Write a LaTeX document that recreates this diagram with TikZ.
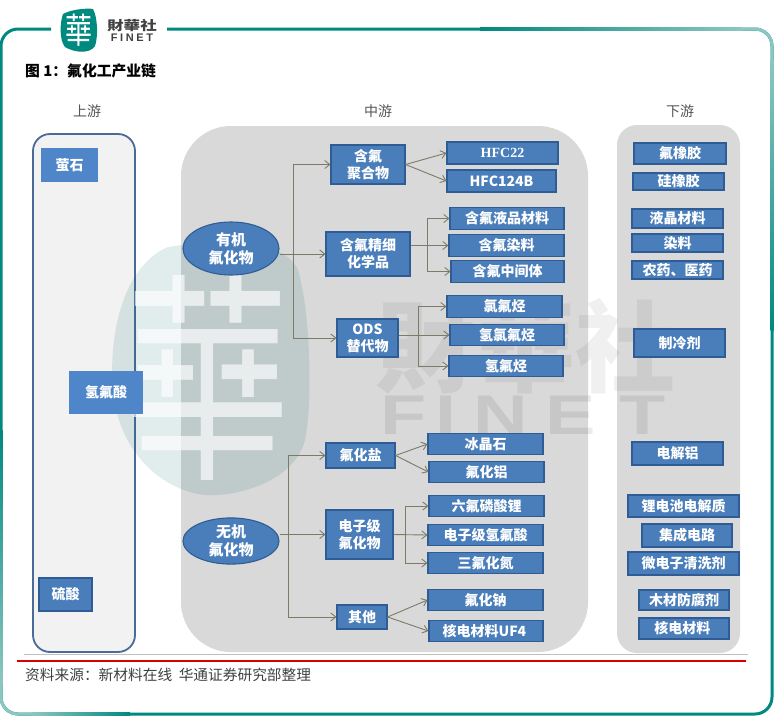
\documentclass[tikz,border=0pt]{standalone}
\usepackage{fontspec}
\setmainfont{Noto Sans CJK SC}
\newfontfamily\tcfont{Noto Sans CJK TC}
\newfontfamily\latinfont{Liberation Sans}
\newfontfamily\romanfont{Liberation Serif}
\usetikzlibrary{arrows.meta,shapes.geometric}
\definecolor{finet}{HTML}{00897F}
\definecolor{finetpale}{HTML}{8CC6C1}
\definecolor{panel}{HTML}{D9D9D9}
\definecolor{sidepanel}{HTML}{F2F2F2}
\definecolor{sideedge}{HTML}{4A6A98}
\definecolor{boxblue}{HTML}{4A7EBB}
\definecolor{boxedge}{HTML}{2F5C94}
\definecolor{lightblue}{HTML}{4F86C9}
\definecolor{linkgray}{HTML}{7D7B68}
\definecolor{capgray}{HTML}{555555}
\newcommand{\lab}[1]{\fontsize{#1}{1.22\dimexpr#1pt\relax}\selectfont}
\tikzset{
  box/.style={draw=boxedge, line width=1.1pt, fill=boxblue, text=white,
    font=\lab{14}\bfseries, inner sep=0pt, align=center},
  flatbox/.style={box, draw=none, fill=lightblue},
  blob/.style={box, ellipse, fill=boxblue, font=\lab{15}\bfseries},
  link/.style={draw=linkgray, line width=0.9pt, -{Straight Barb[length=5pt,width=8pt]}},
  heading/.style={font=\lab{14}, text=capgray},
  rim/.style={line width=3pt, rounded corners=17pt}
}
\begin{document}
\begin{tikzpicture}[x=1pt, y=-1pt]
  \useasboundingbox (0,0) rectangle (776,718);
  % outer frame
  \draw[rim, finet] (167,29) -- (772,29) -- (772,714) -- (1,714) -- (1,29) -- (51,29);
  \shade[left color=finet, right color=finetpale] (480,27.5) rectangle (742,30.5);
  \draw[rim, finetpale] (740,29) -- (772,29) -- (772,62);
  \shade[top color=finetpale, bottom color=finet] (770.5,60) rectangle (773.5,330);
  \shade[top color=finet, bottom color=finetpale] (-0.5,430) rectangle (2.5,684);
  \draw[rim, finetpale] (1,682) -- (1,714) -- (34,714);
  \shade[left color=finetpale, right color=finet] (32,712.5) rectangle (130,715.5);
  % logo
  \fill[finet] (63,14) .. controls (72,9) and (88,8) .. (93,9) .. controls (98,18) and (98,38) .. (95,46)
    .. controls (90,54) and (75,53) .. (65,47) .. controls (59,40) and (60,22) .. (63,14) -- cycle;
  \node[font=\tcfont\lab{27}, text=white, inner sep=0pt, yscale=1.3, transform shape] (logomark) at (78.5,30) {華};
  \node[font=\tcfont\lab{13}\bfseries, text=black!75, inner sep=0pt, xscale=1.27, transform shape] (logoname) at (132,25.5) {財華社};
  \node[font=\latinfont\lab{11}\bfseries, text=black!75, inner sep=0pt] (logofinet) at (132,38) {F\hspace{2.6pt}I\hspace{2.6pt}N\hspace{2.6pt}E\hspace{2.6pt}T};
  % title and headings
  \node[font=\lab{14.8}\bfseries, anchor=west, inner sep=0pt] (title) at (25,71) {图 1：氟化工产业链};
  \node[heading] (upstream) at (87,111) {上游};
  \node[heading] (midstream) at (378,111) {中游};
  \node[heading] (downstream) at (680,111) {下游};
  % panels
  \draw[sideedge, fill=sidepanel, line width=1.8pt, rounded corners=17pt] (33,134) rectangle (135,652);
  \fill[panel, rounded corners=50pt] (181,126) rectangle (588,652);
  \fill[panel, rounded corners=20pt] (617,125) rectangle (740,653);
  % watermark
  \fill[finet!75!black, opacity=0.12] (168,247) .. controls (225,238) and (285,240) .. (298,270)
    .. controls (310,310) and (313,400) .. (305,440) .. controls (295,480) and (240,497) .. (205,495)
    .. controls (160,490) and (118,450) .. (113,390) .. controls (108,330) and (125,265) .. (168,247) -- cycle;
  \node[font=\tcfont\lab{165}, text=white, opacity=0.65, inner sep=0pt, yscale=1.35, transform shape] (markbig) at (208,378) {華};
  \node[font=\tcfont\lab{100}\bfseries, text=black, opacity=0.06, inner sep=0pt] (namebig) at (525,346) {財華社};
  \foreach \n/\x in {F/404, I/446, N/501, E/571, T/643}
    \node[font=\latinfont\lab{56}\bfseries, text=black, opacity=0.08, inner sep=0pt, xscale=1.35, transform shape] (big\n) at (\x,415) {\n};
  % upstream boxes
  \node[flatbox, minimum width=57, minimum height=34] (fluorite) at (69.5,165) {萤石};
  \node[flatbox, minimum width=74, minimum height=43] (hfacid) at (106,392.5) {氢氟酸};
  \node[box, fill=boxblue, minimum width=53, minimum height=33] (sulfuric) at (65.5,594.5) {硫酸};
  % midstream
  \node[blob, minimum width=96, minimum height=53] (organic) at (231,248.5) {有机\\氟化物};
  \node[blob, minimum width=96, minimum height=46, fill=boxblue] (inorganic) at (231,541) {无机\\氟化物};
  \node[box, minimum width=74, minimum height=39] (polymer) at (368,164.5) {含氟\\聚合物};
  \node[box, minimum width=84, minimum height=44] (fine) at (368,254) {含氟精细\\化学品};
  \node[box, minimum width=61, minimum height=38] (ods) at (367.5,338) {ODS\\替代物};
  \node[box, minimum width=69, minimum height=25] (salt) at (360.5,455.5) {氟化盐};
  \node[box, minimum width=67, minimum height=49] (egrade) at (359.5,534.5) {电子级\\氟化物};
  \node[box, minimum width=50, minimum height=24] (other) at (362,617) {其他};
  \foreach \nm/\x/\y/\w/\txt in {
    lcd/507/218.5/114/含氟液品材料,
    dye/506.5/245.5/115/含氟染料,
    inter/507.5/271.5/113/含氟中间体,
    cfc/504.5/306.5/115/氯氟烃,
    hcfc/507/335/114/氢氯氟烃,
    hfc/506/366/114/氢氟烃,
    cryolite/485.5/444/115/冰晶石,
    alf/486.5/472/115/氟化铝,
    lipf/486.5/506/115/六氟磷酸锂,
    ehf/485.5/535/115/电子级氢氟酸,
    nf/485.5/563/115/三氟化氮,
    naf/485.5/600/115/氟化钠,
    uf/486/631/114/核电材料{\bfseries UF4}
  }
    \node[box, minimum width=\w, minimum height=21.5] (\nm) at (\x,\y) {\txt};
  \node[box, minimum width=111, minimum height=22, font=\romanfont\lab{14}\bfseries] (hfca) at (502.5,153) {HFC22};
  \node[box, minimum width=109, minimum height=22] (hfcb) at (501.5,181) {HFC124B};
  % downstream
  \foreach \nm/\x/\y/\w/\h/\txt in {
    rubberf/680/153.5/92/21/氟橡胶,
    rubbers/678.5/181.5/91/17/硅橡胶,
    crystal/677.5/218.5/91/19/液晶材料,
    dyeuse/677.5/243/91/18/染料,
    pharma/677.5/270/91/18/农药、医药,
    coolant/679.5/343/91/28/制冷剂,
    alum/677.5/453.5/91/23/电解铝,
    battery/683.5/506/111/22/锂电池电解质,
    chip/687/535.5/90/23/集成电路,
    cleaner/683.5/563.5/111/23/微电子清洗剂,
    wood/684/600/90/20/木材防腐剂,
    nuclear/684/628.5/90/21/核电材料
  }
    \node[box, minimum width=\w, minimum height=\h] (\nm) at (\x,\y) {\txt};
  % organic connectors
  \coordinate (orgtrunk) at (293,254);
  \draw[link] (organic.east |- fine.west) -- (fine.west);
  \draw[link] (orgtrunk) |- (polymer.west);
  \draw[link] (orgtrunk) |- (ods.west);
  \draw[link] (polymer.east) -- (hfca.west);
  \draw[link] (polymer.east) -- (hfcb.west);
  \coordinate (finejoint) at (427,245.5);
  \draw[link] (fine.east |- dye.west) -- (dye.west);
  \draw[link] (finejoint) |- (lcd.west);
  \draw[link] (finejoint) |- (inter.west);
  \coordinate (odsjoint) at (418,335);
  \draw[link] (ods.east |- hcfc.west) -- (hcfc.west);
  \draw[link] (odsjoint) |- (cfc.west);
  \draw[link] (odsjoint) |- (hfc.west);
  % inorganic connectors
  \coordinate (inotrunk) at (288,534.5);
  \draw[link] (inorganic.east |- egrade.west) -- (egrade.west);
  \draw[link] (inotrunk) |- (salt.west);
  \draw[link] (inotrunk) |- (other.west);
  \draw[link] (salt.east) -- (cryolite.west);
  \draw[link] (salt.east) -- (alf.west);
  \coordinate (egradejoint) at (405,534.5);
  \draw[link] (egrade.east) -- (ehf.west);
  \draw[link] (egradejoint) |- (lipf.west);
  \draw[link] (egradejoint) |- (nf.west);
  \draw[link] (other.east) -- (naf.west);
  \draw[link] (other.east) -- (uf.west);
  % source line
  \draw[black!25, line width=0.6pt] (24,654) -- (748,654);
  \draw[red!85!black, line width=1.6pt] (17,661) -- (746,661);
  \node[font=\lab{14.7}, text=black!75, anchor=west, inner sep=0pt] (source) at (25,675) {资料来源：新材料在线\ \ 华通证券研究部整理};
\end{tikzpicture}
\end{document}
